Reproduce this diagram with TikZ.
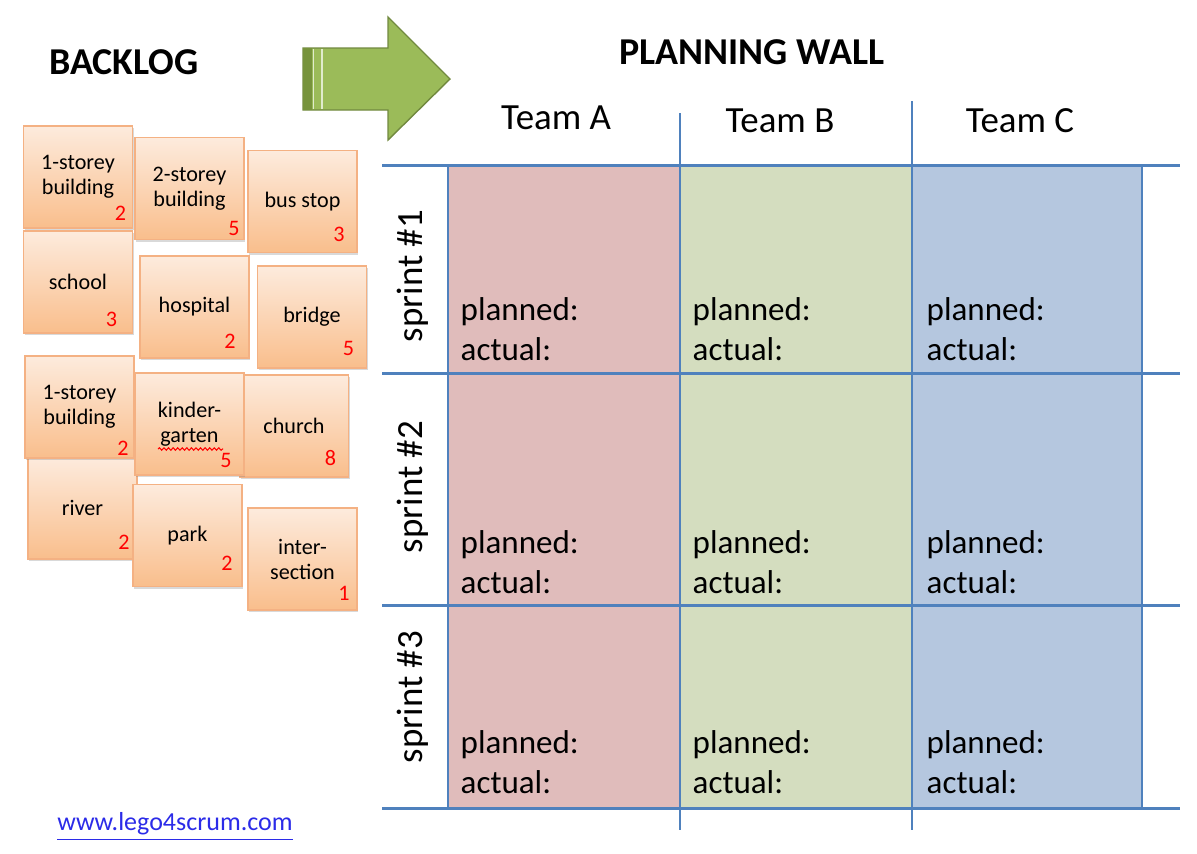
\documentclass[tikz,border=0pt]{standalone}
\usepackage{fontspec}
\setmainfont{Carlito}
\usetikzlibrary{shadows,decorations.pathmorphing}
\definecolor{cardedge}{HTML}{F4B183}
\definecolor{cardtop}{HTML}{FDEBDD}
\definecolor{cardbot}{HTML}{F9BE8C}
\definecolor{wallblue}{HTML}{4F81BD}
\definecolor{teamApink}{HTML}{E0BCBB}
\definecolor{teamBgreen}{HTML}{D4DDBF}
\definecolor{teamCblue}{HTML}{B5C7DF}
\definecolor{arrowgreen}{HTML}{9BBB59}
\definecolor{arrowedge}{HTML}{71893F}
\definecolor{arrowdark}{HTML}{77933C}
\definecolor{linkblue}{HTML}{2B2BE8}
\tikzset{
  card/.style      = {draw=cardedge, line width=0.5pt, top color=cardtop, bottom color=cardbot,
                      minimum width=1.09cm, minimum height=1.02cm, inner sep=0pt, align=center,
                      font=\fontsize{6.3}{7.1}\selectfont,
                      drop shadow={shadow xshift=0.3pt, shadow yshift=-0.6pt, opacity=0.3}},
  pts/.style       = {font=\fontsize{6.3}{7.1}\selectfont, text=red, inner sep=0pt},
  title/.style     = {font=\fontsize{10.8}{13}\selectfont\bfseries},
  colhead/.style   = {font=\fontsize{10.5}{12.6}\selectfont},
  cell/.style      = {anchor=base west, inner sep=0pt, font=\fontsize{9.4}{11}\selectfont},
  wall/.style      = {line width=0.85pt, draw=wallblue},
  squiggle/.style  = {red, line width=0.3pt, decorate,
                      decoration={snake, amplitude=0.35pt, segment length=1.3pt}},
}

\begin{document}
\begin{tikzpicture}
  \useasboundingbox (0,0) rectangle (11.97,-8.54);

  % titles
  \node[title] (backlog) at (1.24,-0.62) {BACKLOG};
  \node[title] (planwall) at (7.52,-0.52) {PLANNING WALL};

  % arrow
  \draw[fill=arrowgreen, draw=arrowedge, line width=0.4pt]
    (3.03,-0.48) -- (3.88,-0.48) -- (3.88,-0.17) -- (4.50,-0.79)
    -- (3.88,-1.40) -- (3.88,-1.10) -- (3.03,-1.10) -- cycle;
  \fill[arrowdark] (3.03,-0.48) rectangle (3.12,-1.10);
  \draw[white!70!arrowgreen, line width=0.4pt] (3.135,-0.49) -- (3.135,-1.09);
  \draw[white!70!arrowgreen, line width=0.4pt] (3.22,-0.49) -- (3.22,-1.09);

  % wall
  \fill[teamApink] (4.48,-1.65) rectangle (6.80,-8.08);
  \fill[teamBgreen] (6.80,-1.65) rectangle (9.12,-8.08);
  \fill[teamCblue] (9.12,-1.65) rectangle (11.42,-8.08);
  \draw[wall, line width=0.6pt] (4.48,-1.65) rectangle (11.42,-8.08);
  \foreach \y in {1.65,3.73,6.05,8.08}
    \draw[wall] (3.82,-\y) -- (11.80,-\y);
  \draw[wall] (6.80,-1.13) -- (6.80,-8.30);
  \draw[wall] (9.12,-1.01) -- (9.12,-8.30);

  \node[colhead] (teamA) at (5.56,-1.18) {Team A};
  \node[colhead] (teamB) at (7.80,-1.21) {Team B};
  \node[colhead] (teamC) at (10.20,-1.21) {Team C};

  \node[colhead, rotate=90] (sprint1) at (4.13,-2.76) {sprint \#1};
  \node[colhead, rotate=90] (sprint2) at (4.13,-4.87) {sprint \#2};
  \node[colhead, rotate=90] (sprint3) at (4.13,-6.97) {sprint \#3};

  \foreach \col/\cx in {A/4.60,B/6.92,C/9.26}
    \foreach \row/\cy in {1/3.20,2/5.53,3/7.53} {
      \node[cell] (plan\col\row) at (\cx,-\cy) {planned:};
      \node[cell] (act\col\row) at (\cx,-\cy-0.40) {actual:};
    }

  % backlog cards
  \node[card] (storeyA) at (0.78,-1.77) {1-storey\\building};
  \node[pts] (ptstoreyA) at ([shift={(-0.13,0.16)}]storeyA.south east) {2};
  \node[card] (storeyB) at (1.895,-1.885) {2-storey\\building};
  \node[pts] (ptstoreyB) at ([shift={(-0.11,0.12)}]storeyB.south east) {5};
  \node[card] (busstop) at (3.025,-2.015) {bus stop};
  \node[pts] (ptbusstop) at ([shift={(-0.19,0.19)}]busstop.south east) {3};
  \node[card] (school) at (0.78,-2.82) {school};
  \node[pts] (ptschool) at ([shift={(-0.22,0.14)}]school.south east) {3};
  \node[card] (hospital) at (1.945,-3.07) {hospital};
  \node[pts] (pthospital) at ([shift={(-0.20,0.18)}]hospital.south east) {2};
  \node[card] (bridge) at (3.12,-3.17) {bridge};
  \node[pts] (ptbridge) at ([shift={(-0.19,0.20)}]bridge.south east) {5};

  \node[card] (river) at (0.825,-5.08) {river};
  \node[pts] (ptriver) at ([shift={(-0.14,0.18)}]river.south east) {2};
  \node[card] (storeyC) at (0.795,-4.07) {1-storey\\building};
  \node[pts] (ptstoreyC) at ([shift={(-0.12,0.11)}]storeyC.south east) {2};
  \node[card] (church) at (2.94,-4.26) {church};
  \node[pts] (ptchurch) at ([shift={(-0.19,0.20)}]church.south east) {8};
  \node[card] (kinder) at (1.895,-4.24) {kinder-\\garten};
  \node[pts] (ptkinder) at ([shift={(-0.19,0.15)}]kinder.south east) {5};
  \draw[squiggle] (1.58,-4.49) -- (2.23,-4.49);
  \node[card] (park) at (1.875,-5.355) {park};
  \node[pts] (ptpark) at ([shift={(-0.16,0.24)}]park.south east) {2};
  \node[card] (crossing) at (3.025,-5.59) {inter-\\section};
  \node[pts] (ptcrossing) at ([shift={(-0.14,0.18)}]crossing.south east) {1};

  % link
  \node[text=linkblue, font=\fontsize{7.4}{9}\selectfont] (link) at (1.75,-8.27)
    {\underline{www.lego4scrum.com}};
\end{tikzpicture}
\end{document}
